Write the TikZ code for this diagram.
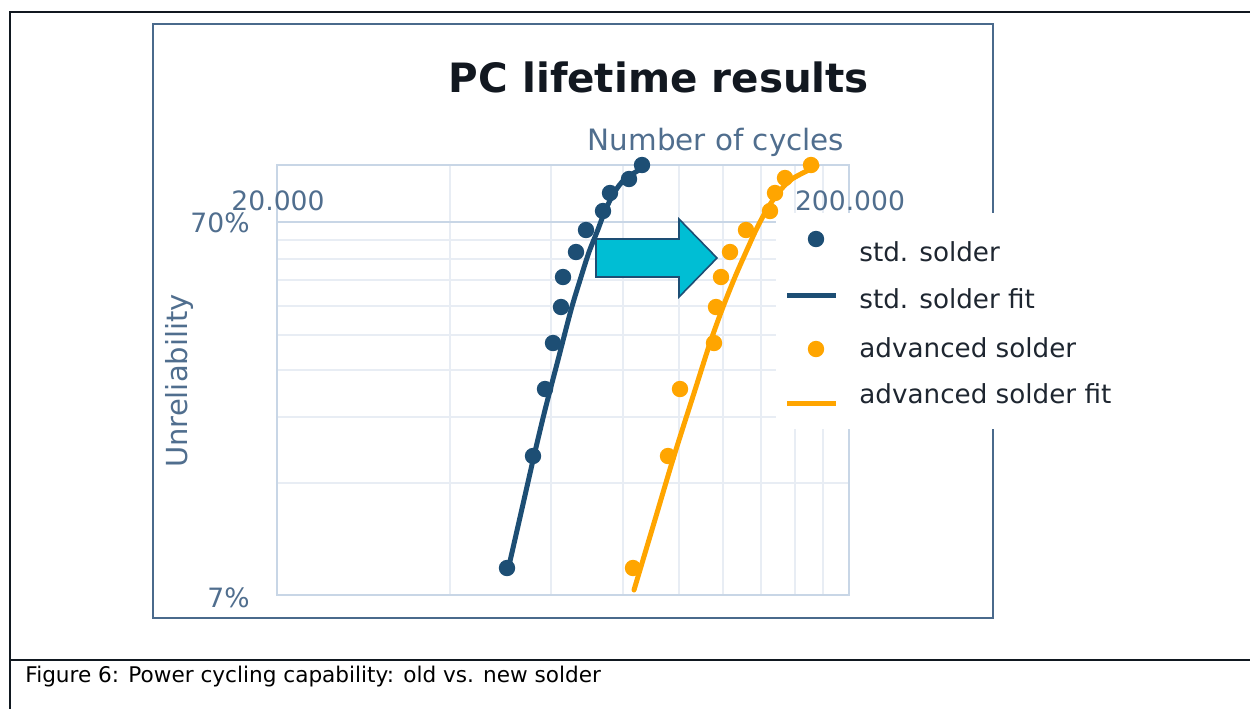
\documentclass[tikz,border=0pt]{standalone}
\usepackage{fontspec}
\setmainfont{DejaVu Sans}
\usepackage{xcolor}
\usetikzlibrary{positioning}

\definecolor{framec}{RGB}{74,106,140}
\definecolor{tickc}{RGB}{80,110,142}
\definecolor{gridc}{RGB}{232,237,244}
\definecolor{axisc}{RGB}{200,214,230}
\definecolor{stdblue}{RGB}{29,78,116}
\definecolor{advorange}{RGB}{255,165,0}
\definecolor{arrowcyan}{RGB}{0,190,212}
\definecolor{textc}{RGB}{30,38,48}
\definecolor{titlec}{RGB}{18,24,32}
\definecolor{cellc}{RGB}{17,24,32}

\begin{document}
\begin{tikzpicture}[x=0.5pt, y=-0.5pt,
    gridline/.style={draw=gridc, line width=0.9pt},
    axisline/.style={draw=axisc, line width=1.1pt},
    ticklabel/.style={text=tickc, inner sep=0pt, font=\fontsize{13.3}{16}\selectfont},
    stddot/.style={circle, fill=stdblue, inner sep=0pt, minimum size=8.2pt},
    advdot/.style={circle, fill=advorange, inner sep=0pt, minimum size=8.2pt},
    fitline/.style={line width=2.5pt, line cap=round},
    legtext/.style={text=textc, inner sep=0pt, anchor=base west, font=\fontsize{13.1}{16}\selectfont}]
    \useasboundingbox (0,0) rectangle (1250,709);

    % table cell around the figure
    \draw[cellc, line width=1.3pt] (1250,12) -- (10,12) -- (10,709);
    \draw[cellc, line width=1pt] (10,660) -- (1250,660);
    \node[anchor=base west, inner sep=0pt, font=\fontsize{10.8}{13}\selectfont] (caption) at (25,682) {Figure 6: Power cycling capability: old vs. new solder};

    % chart frame
    \draw[framec, line width=1pt] (153,24) rectangle (993,618);

    % grid
    \draw[gridline] (450,165) -- (450,595);
    \draw[gridline] (551,165) -- (551,595);
    \draw[gridline] (623,165) -- (623,595);
    \draw[gridline] (679,165) -- (679,595);
    \draw[gridline] (723,165) -- (723,595);
    \draw[gridline] (761,165) -- (761,595);
    \draw[gridline] (795,165) -- (795,595);
    \draw[gridline] (823,165) -- (823,595);
    \draw[gridline] (277,240) -- (849,240);
    \draw[gridline] (277,259) -- (849,259);
    \draw[gridline] (277,280) -- (849,280);
    \draw[gridline] (277,306) -- (849,306);
    \draw[gridline] (277,335) -- (849,335);
    \draw[gridline] (277,370) -- (849,370);
    \draw[gridline] (277,417) -- (849,417);
    \draw[gridline] (277,483) -- (849,483);
    \draw[axisline] (277,165) rectangle (849,595);
    \draw[axisline] (277,222) -- (849,222);

    % legend background
    \fill[white] (776,213) rectangle (1130,429);

    % titles and tick labels
    \node[anchor=base, inner sep=0pt, text=titlec, font=\fontsize{20.2}{24}\selectfont\bfseries] (title) at (659,92) {PC lifetime results};
    \node[anchor=base, inner sep=0pt, text=tickc, font=\fontsize{14.7}{18}\selectfont] (xtitle) at (716,150) {Number of cycles};
    \node[anchor=base, inner sep=0pt, text=tickc, rotate=90, font=\fontsize{14.5}{18}\selectfont] (ytitle) at (187,381) {Unreliability};
    \node[ticklabel, anchor=base] (x20k) at (278,210) {20.000};
    \node[ticklabel, anchor=base] (x200k) at (850,210) {200.000};
    \node[ticklabel, anchor=base east] (y70) at (250,232) {70\%};
    \node[ticklabel, anchor=base east] (y7) at (250,607) {7\%};

    % fits
    \draw[stdblue, fitline] plot[smooth] coordinates {(508,570) (521,513) (534,456) (545,410) (558,360) (571,310) (581,277) (589,252) (597,232) (605,211) (614,193) (625,179) (646,166)};
    \draw[advorange, fitline] plot[smooth] coordinates {(634,590) (654,523) (674,456) (695,390) (710,343) (723,307) (735,277) (746,252) (756,230) (766,211) (778,193) (792,179) (817,166)};

    % std. solder
    \node[stddot] (s1) at (507,568) {};
    \node[stddot] (s2) at (533,456) {};
    \node[stddot] (s3) at (545,389) {};
    \node[stddot] (s4) at (553,343) {};
    \node[stddot] (s5) at (561,307) {};
    \node[stddot] (s6) at (563,277) {};
    \node[stddot] (s7) at (576,252) {};
    \node[stddot] (s8) at (586,230) {};
    \node[stddot] (s9) at (603,211) {};
    \node[stddot] (s10) at (610,193) {};
    \node[stddot] (s11) at (629,179) {};
    \node[stddot] (s12) at (642,165) {};

    % advanced solder
    \node[advdot] (a1) at (633,568) {};
    \node[advdot] (a2) at (668,456) {};
    \node[advdot] (a3) at (680,389) {};
    \node[advdot] (a4) at (714,343) {};
    \node[advdot] (a5) at (716,307) {};
    \node[advdot] (a6) at (721,277) {};
    \node[advdot] (a7) at (730,252) {};
    \node[advdot] (a8) at (746,230) {};
    \node[advdot] (a9) at (770,211) {};
    \node[advdot] (a10) at (775,193) {};
    \node[advdot] (a11) at (785,178) {};
    \node[advdot] (a12) at (811,165) {};

    % shift arrow
    \draw[fill=arrowcyan, draw=stdblue, line width=0.8pt, line join=miter] (596,239) -- (679,239) -- (679,219) -- (717,258) -- (679,297) -- (679,277) -- (596,277) -- cycle;

    % legend
    \node[stddot] (l1) at (816,239) {};
    \draw[stdblue, line width=2.5pt] (787,295) -- (836,295);
    \node[advdot] (l3) at (816,349) {};
    \draw[advorange, line width=2.5pt] (787,403) -- (836,403);
    \node[legtext] (t1) at (859,261) {std. solder};
    \node[legtext] (t2) at (859,308) {std. solder fit};
    \node[legtext] (t3) at (859,357) {advanced solder};
    \node[legtext] (t4) at (859,403) {advanced solder fit};
\end{tikzpicture}
\end{document}
